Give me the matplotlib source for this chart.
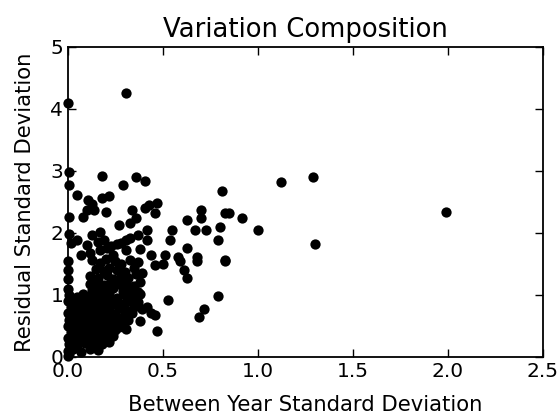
import matplotlib
matplotlib.use('Agg')
import matplotlib.pyplot as plt
import numpy as np

# --- dados: pontos espalhados ---
sparse_x = [0.00, 0.31, 1.12, 1.29, 1.00, 1.30, 1.99,
            0.81, 0.47, 0.46, 0.70, 0.70, 0.63, 0.83, 0.85, 0.92, 0.55, 0.67,
            0.73, 0.80, 0.54, 0.79, 0.63, 0.51, 0.58, 0.68, 0.83, 0.59, 0.68,
            0.83, 0.46, 0.50, 0.61, 0.63, 0.79, 0.53, 0.72, 0.69, 0.46, 0.47,
            0.01, 0.18, 0.36, 0.41, 0.29, 0.01, 0.05, 0.11, 0.13, 0.18, 0.22,
            0.10, 0.14, 0.20, 0.08, 0.34, 0.36, 0.41, 0.43, 0.01, 0.27, 0.33,
            0.01, 0.13, 0.17, 0.42, 0.37, 0.31, 0.19, 0.23, 0.28, 0.42, 0.02,
            0.07, 0.12, 0.17, 0.24, 0.31, 0.38, 0.44]
sparse_y = [4.10, 4.26, 2.82, 2.90, 2.05, 1.82, 2.33,
            2.67, 2.48, 2.32, 2.37, 2.24, 2.21, 2.32, 2.32, 2.24, 2.05, 2.05,
            2.05, 2.09, 1.88, 1.88, 1.75, 1.65, 1.61, 1.61, 1.56, 1.54, 1.54,
            1.54, 1.48, 1.50, 1.40, 1.28, 0.99, 0.92, 0.77, 0.65, 0.67, 0.42,
            2.99, 2.92, 2.90, 2.84, 2.77, 2.77, 2.61, 2.53, 2.47, 2.56, 2.60,
            2.37, 2.37, 2.34, 2.25, 2.37, 2.24, 2.40, 2.45, 2.25, 2.13, 2.16,
            1.98, 1.97, 2.02, 2.05, 1.97, 1.89, 1.89, 1.79, 1.84, 1.89, 1.84,
            1.65, 1.67, 1.72, 1.65, 1.72, 1.74, 1.65]

# --- dados: nuvem densa perto da origem ---
dense_x = [0.05, 0.10, 0.16, 0.21, 0.26, 0.33,
           0.13, 0.17, 0.20, 0.25, 0.28, 0.33, 0.37, 0.00,
           0.15, 0.19, 0.22, 0.26, 0.30, 0.35, 0.39, 0.00,
           0.12, 0.16, 0.21, 0.24, 0.28, 0.32, 0.36, 0.00,
           0.12, 0.15, 0.19, 0.23, 0.27, 0.31, 0.35, 0.38,
           0.00, 0.13, 0.17, 0.20, 0.24, 0.29, 0.33, 0.37,
           0.01, 0.05, 0.08, 0.11, 0.15, 0.18, 0.22, 0.26, 0.30, 0.34, 0.38,
           0.00, 0.03, 0.07, 0.10, 0.14, 0.17, 0.21, 0.25, 0.29, 0.33, 0.37,
           0.02, 0.05, 0.09, 0.12, 0.16, 0.19, 0.23, 0.27, 0.31, 0.35, 0.39, 0.42,
           0.00, 0.04, 0.07, 0.11, 0.14, 0.18, 0.21, 0.25, 0.29, 0.34, 0.44,
           0.01, 0.03, 0.06, 0.09, 0.13, 0.16, 0.20, 0.24, 0.28, 0.32, 0.38,
           0.00, 0.04, 0.08, 0.11, 0.15, 0.19, 0.22, 0.27, 0.31,
           0.02, 0.05, 0.09, 0.13, 0.17, 0.21, 0.25,
           0.00, 0.03, 0.07, 0.11, 0.15, 0.20, 0.24,
           0.01, 0.05, 0.09, 0.14, 0.18, 0.22,
           0.00, 0.03, 0.07, 0.12, 0.16, 0.00, 0.01]
dense_y = [1.88, 1.80, 1.85, 1.76, 1.82, 1.92,
           1.56, 1.52, 1.58, 1.55, 1.50, 1.57, 1.53, 1.55,
           1.42, 1.38, 1.44, 1.40, 1.37, 1.43, 1.36, 1.40,
           1.30, 1.27, 1.32, 1.26, 1.31, 1.28, 1.33, 1.25,
           1.18, 1.21, 1.16, 1.22, 1.17, 1.20, 1.15, 1.21,
           1.10, 1.08, 1.12, 1.06, 1.11, 1.07, 1.10, 1.05,
           1.00, 0.97, 1.02, 0.96, 1.01, 0.98, 1.03, 0.95, 1.00, 0.97, 1.02,
           0.90, 0.88, 0.92, 0.86, 0.91, 0.87, 0.93, 0.89, 0.85, 0.90, 0.88,
           0.80, 0.78, 0.82, 0.76, 0.81, 0.77, 0.83, 0.79, 0.75, 0.80, 0.78, 0.81,
           0.70, 0.68, 0.72, 0.66, 0.71, 0.67, 0.73, 0.69, 0.65, 0.70, 0.71,
           0.60, 0.58, 0.62, 0.56, 0.61, 0.57, 0.63, 0.59, 0.55, 0.60, 0.58,
           0.50, 0.48, 0.52, 0.46, 0.51, 0.47, 0.53, 0.49, 0.45,
           0.40, 0.38, 0.42, 0.36, 0.41, 0.37, 0.43,
           0.30, 0.28, 0.32, 0.26, 0.31, 0.27, 0.33,
           0.20, 0.18, 0.22, 0.16, 0.21, 0.24,
           0.10, 0.12, 0.08, 0.13, 0.11, 0.02, 0.05]

# --- dados: núcleo mais cheio (x 0-0.25, y 0-1.1) ---
core_x = [0.02, 0.06, 0.10, 0.14, 0.18, 0.22, 0.04, 0.08, 0.12, 0.16, 0.20,
          0.02, 0.06, 0.10, 0.14, 0.18, 0.22, 0.04, 0.08, 0.12, 0.16, 0.20,
          0.02, 0.06, 0.10, 0.14, 0.18, 0.04, 0.08, 0.12, 0.16, 0.20,
          0.02, 0.06, 0.10, 0.14, 0.05, 0.09, 0.13, 0.17, 0.23, 0.27]
core_y = [0.95, 0.93, 0.97, 0.94, 0.92, 0.96, 0.83, 0.85, 0.84, 0.86, 0.83,
          0.74, 0.75, 0.77, 0.76, 0.74, 0.76, 0.64, 0.66, 0.65, 0.67, 0.66,
          0.54, 0.55, 0.57, 0.54, 0.56, 0.44, 0.46, 0.45, 0.47, 0.44,
          0.34, 0.35, 0.37, 0.34, 0.24, 0.26, 0.25, 0.28, 0.55, 0.62]

between_sd = np.array(sparse_x + dense_x + core_x)
residual_sd = np.array(sparse_y + dense_y + core_y)

# --- figura ---
fig = plt.figure(figsize=(5.58, 4.15), dpi=100)
ax = fig.add_axes([0.121, 0.140, 0.852, 0.747])

ax.plot(between_sd, residual_sd, 'ko', markersize=7.4, markeredgewidth=0,
        clip_on=False, zorder=3)

ax.set_xlim(0, 2.5)
ax.set_ylim(0, 5)
ax.set_xticks([0.0, 0.5, 1.0, 1.5, 2.0, 2.5])
ax.set_yticks([0, 1, 2, 3, 4, 5])
ax.tick_params(direction='in', top=True, right=True, length=6, width=1,
               labelsize=14.5)
ax.tick_params(axis='x', pad=4)
ax.tick_params(axis='y', pad=3)
for s in ax.spines.values():
    s.set_linewidth(1.3)

ax.set_title('Variation Composition', fontsize=18.6, pad=7)
ax.set_xlabel('Between Year Standard Deviation', fontsize=15.2, labelpad=10)
ax.set_ylabel('Residual Standard Deviation', fontsize=15.2, labelpad=11)

fig.savefig('out.png', dpi=100)
